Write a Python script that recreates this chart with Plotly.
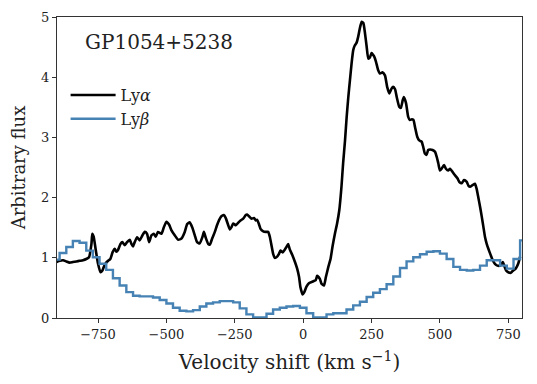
import plotly.graph_objects as go

# Ly-alpha profile (velocity in km/s, flux arbitrary)
vel_a = [-902, -890, -878, -866, -854, -842, -829, -817, -805, -793, -783, -774, -771, -766, -758,
         -750, -741, -734, -728, -722, -713, -705, -697, -689, -683, -677, -668, -661, -652, -644,
         -634, -628, -622, -616, -607, -598, -588, -579, -571, -563, -555, -546, -539, -531, -518,
         -510, -500, -490, -482, -469, -457, -445, -433, -424, -415, -405, -396, -388, -378, -368,
         -363, -356, -347, -341, -332, -323, -315, -307, -299, -290, -283, -274, -268, -262, -256,
         -246, -238, -229, -219, -210, -205, -198, -189, -180, -173, -168, -161, -156, -146, -136,
         -128, -122, -116, -110, -104, -95, -88, -83, -75, -68, -61, -55, -49, -39, -30,
         -22, -15, -10, -2, 4, 12, 22, 37, 46, 51, 61, 67, 76, 83, 92,
         100, 107, 116, 124, 132, 140, 146, 153, 159, 165, 171, 177, 183, 189, 195,
         201, 207, 214, 220, 226, 232, 238, 244, 250, 254, 259, 266, 274, 281, 290,
         299, 307, 315, 323, 329, 336, 342, 351, 357, 364, 368, 376, 384, 390, 397,
         403, 409, 417, 424, 433, 439, 445, 451, 457, 464, 473, 482, 488, 494, 500,
         506, 515, 522, 530, 537, 547, 555, 564, 571, 580, 588, 598, 604, 610, 620,
         628, 634, 640, 647, 653, 659, 665, 671, 677, 686, 693, 701, 710, 720, 730,
         735, 742, 750, 759, 768, 777, 786, 793]
flux_a = [0.93, 0.95, 0.96, 0.94, 0.92, 0.93, 0.94, 0.95, 0.96, 0.98, 1.01, 1.23, 1.40, 1.35, 1.12,
          0.90, 0.76, 0.79, 0.86, 0.91, 0.95, 0.98, 1.09, 1.15, 1.10, 1.13, 1.23, 1.26, 1.21, 1.26,
          1.30, 1.23, 1.19, 1.26, 1.34, 1.29, 1.37, 1.43, 1.40, 1.26, 1.37, 1.40, 1.35, 1.43, 1.40,
          1.50, 1.60, 1.55, 1.46, 1.37, 1.30, 1.32, 1.43, 1.56, 1.59, 1.50, 1.37, 1.26, 1.24, 1.35,
          1.43, 1.33, 1.23, 1.22, 1.33, 1.43, 1.54, 1.63, 1.69, 1.71, 1.66, 1.54, 1.47, 1.51, 1.57,
          1.54, 1.58, 1.62, 1.65, 1.71, 1.72, 1.69, 1.65, 1.66, 1.62, 1.63, 1.55, 1.48, 1.44, 1.43,
          1.43, 1.35, 1.21, 1.07, 1.00, 1.02, 1.07, 1.12, 1.09, 1.13, 1.18, 1.23, 1.14, 1.04, 0.93,
          0.82, 0.68, 0.51, 0.39, 0.43, 0.52, 0.58, 0.61, 0.63, 0.70, 0.65, 0.57, 0.54, 0.68, 0.85,
          0.98, 1.18, 1.40, 1.57, 1.79, 2.18, 2.57, 2.95, 3.34, 3.67, 3.95, 4.23, 4.45, 4.53, 4.57,
          4.67, 4.81, 4.92, 4.90, 4.73, 4.51, 4.31, 4.33, 4.40, 4.38, 4.35, 4.26, 4.12, 4.06, 4.08,
          4.03, 3.84, 3.73, 3.81, 3.84, 3.80, 3.67, 3.51, 3.49, 3.62, 3.67, 3.57, 3.34, 3.29, 3.30,
          3.29, 3.17, 3.01, 2.95, 2.93, 2.84, 2.73, 2.71, 2.79, 2.80, 2.79, 2.76, 2.68, 2.57, 2.45,
          2.48, 2.54, 2.48, 2.45, 2.48, 2.42, 2.37, 2.32, 2.26, 2.24, 2.29, 2.26, 2.20, 2.18, 2.21,
          2.23, 2.15, 2.01, 1.84, 1.68, 1.51, 1.34, 1.23, 1.15, 1.04, 0.96, 0.90, 0.87, 0.87, 0.93,
          0.87, 0.79, 0.76, 0.75, 0.79, 0.82, 0.90, 1.02]

# Ly-beta profile, binned (bin centres)
vel_b = [-903, -878, -854, -830, -805, -781, -757, -732, -708, -683, -659, -634, -610, -586, -561,
         -537, -512, -488, -464, -439, -415, -390, -366, -342, -317, -293, -268, -244, -220, -195,
         -171, -146, -122, -98, -73, -49, -24, 0, 24, 49, 73, 98, 122, 146, 171,
         195, 220, 244, 268, 293, 317, 342, 366, 390, 415, 439, 464, 488, 512, 537,
         561, 586, 610, 634, 659, 683, 708, 732, 757, 781, 805]
flux_b = [0.97, 1.08, 1.18, 1.28, 1.25, 1.12, 1.01, 0.90, 0.80, 0.66, 0.54, 0.43, 0.37, 0.36, 0.36,
          0.34, 0.30, 0.24, 0.17, 0.12, 0.11, 0.13, 0.19, 0.24, 0.26, 0.28, 0.28, 0.26, 0.16, 0.06,
          0.01, 0.01, 0.07, 0.14, 0.17, 0.19, 0.20, 0.17, 0.08, 0.01, 0.01, 0.06, 0.08, 0.08, 0.14,
          0.21, 0.27, 0.35, 0.42, 0.48, 0.56, 0.69, 0.83, 0.94, 1.01, 1.06, 1.10, 1.11, 1.07, 0.98,
          0.85, 0.80, 0.79, 0.80, 0.87, 0.96, 0.96, 0.87, 0.82, 0.98, 1.29]

x_ticks = [-750, -500, -250, 0, 250, 500, 750]
y_ticks = [0, 1, 2, 3, 4, 5]

serif = "'DejaVu Serif', 'Liberation Serif', serif"

fig = go.Figure()
fig.add_trace(go.Scatter(x=vel_a, y=flux_a, mode="lines", name="Ly<i>α</i>",
                         line=dict(color="black", width=2.6, shape="spline", smoothing=0.5)))
fig.add_trace(go.Scatter(x=vel_b, y=flux_b, mode="lines", name="Ly<i>β</i>",
                         line=dict(color="#4682b4", width=2.4, shape="hvh")))

axis_common = dict(showline=True, linecolor="#333333", linewidth=1.2, mirror=True,
                   ticks="outside", ticklen=4, tickwidth=1, tickcolor="#333333",
                   showgrid=False, zeroline=False, automargin=False,
                   tickfont=dict(family=serif, size=13, color="#222222"))

# page body keeps an 8px margin, so the figure is 8px smaller than the window
fig.update_layout(
    width=529, height=376,
    margin=dict(l=49, r=15, t=9, b=66),
    plot_bgcolor="white", paper_bgcolor="white",
    xaxis=dict(range=[-900, 800], tickvals=x_ticks,
               title=dict(text="Velocity shift (km s<sup>−1</sup>)", standoff=14,
                          font=dict(family=serif, size=20, color="#222222")),
               **axis_common),
    yaxis=dict(range=[0, 5], tickvals=y_ticks,
               title=dict(text="Arbitrary flux", standoff=10,
                          font=dict(family=serif, size=18, color="#222222")),
               **axis_common),
    legend=dict(x=0.0185, y=0.797, xanchor="left", yanchor="top", bgcolor="rgba(0,0,0,0)",
                itemwidth=45, font=dict(family=serif, size=16, color="#222222"),
                tracegroupgap=0),
    annotations=[dict(text="GP1054+5238", xref="paper", yref="paper", x=0.055, y=0.917,
                      xanchor="left", yanchor="middle", showarrow=False,
                      font=dict(family=serif, size=20, color="#222222"))],
)

fig.write_html("out.html")
